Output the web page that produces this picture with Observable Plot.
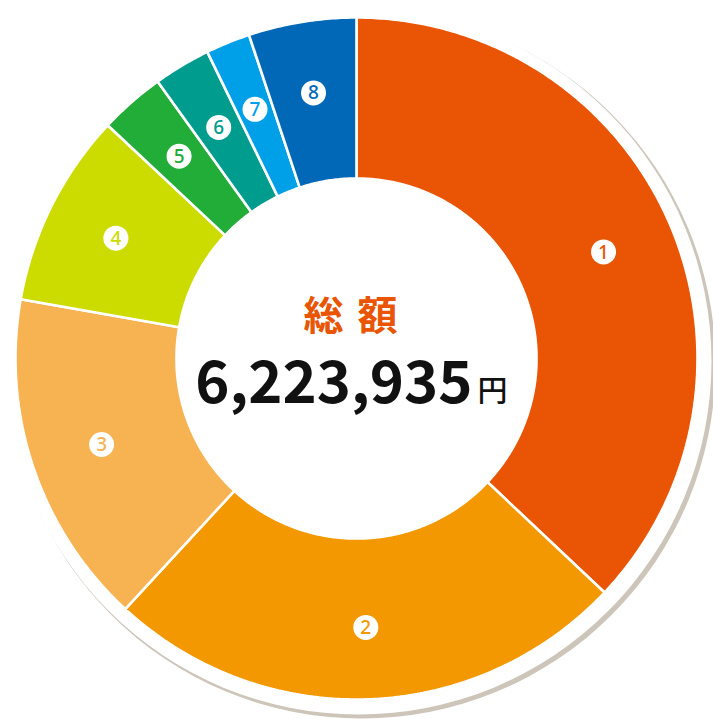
<!DOCTYPE html>
<html><head><meta charset="utf-8">
<script src="https://cdn.jsdelivr.net/npm/d3@7"></script>
<script src="https://cdn.jsdelivr.net/npm/@observablehq/plot@0.6"></script>
<style>
body{margin:0;background:#fff;}
#chart svg{display:block;}
</style>
</head><body><div id="chart"></div>
<script>
// data (share of the total, %)
const categories = ["1","2","3","4","5","6","7","8"];
const shares = [37.0, 24.8, 15.9, 9.2, 3.1, 2.7, 2.1, 5.1];
const colors = ["#E95504","#F39800","#F7B352","#CDDC00","#22AC38","#009C8E","#00A0E9","#0068B7"];
const totalLabel = "総額";
const totalValue = "6,223,935";
const totalUnit = "円";

const innerFrac = 0.528;
const labelFrac = 0.789;

const pieData = categories.map((c, i) => ({cat: c, share: shares[i]}));
const arcs = d3.pie().sort(null).value(d => d.share)(pieData);

// build polygon outlines for each slice from the pie angles
const pts = [];
for (const a of arcs) {
  const n = Math.max(2, Math.ceil((a.endAngle - a.startAngle) / (Math.PI / 360)));
  const ring = [];
  for (let k = 0; k <= n; k++) {
    const t = a.startAngle + (a.endAngle - a.startAngle) * k / n;
    ring.push({cat: a.data.cat, x: Math.sin(t), y: Math.cos(t)});
  }
  for (let k = n; k >= 0; k--) {
    const t = a.startAngle + (a.endAngle - a.startAngle) * k / n;
    ring.push({cat: a.data.cat, x: innerFrac * Math.sin(t), y: innerFrac * Math.cos(t)});
  }
  ring.push({...ring[0]});
  pts.push(...ring);
}
const labelPts = arcs.map(a => {
  const m = (a.startAngle + a.endAngle) / 2;
  return {cat: a.data.cat, x: labelFrac * Math.sin(m), y: labelFrac * Math.cos(m)};
});
const origin = [{x: 0, y: 0}];

const font = "'Noto Sans CJK JP', 'Noto Sans', sans-serif";

const chart = Plot.plot({
  width: 713,
  height: 719,
  marginLeft: 15, marginRight: 16, marginTop: 17, marginBottom: 20,
  x: {domain: [-1, 1], axis: null},
  y: {domain: [-1, 1], axis: null},
  color: {domain: categories, range: colors},
  style: {background: "none", overflow: "visible", fontFamily: font},
  marks: [
    Plot.dot(origin, {x: "x", y: "y", r: 354, fill: "#cdc5b9", stroke: "none", dx: 5, dy: 6}),
    Plot.dot(origin, {x: "x", y: "y", r: 353, fill: "white", stroke: "none", dx: 2, dy: 3}),
    Plot.line(pts, {x: "x", y: "y", z: "cat", fill: "cat", stroke: "white", strokeWidth: 2.6, strokeLinejoin: "miter", curve: "linear"}),
    Plot.dot(labelPts, {x: "x", y: "y", r: 12.5, fill: "white", stroke: "none"}),
    Plot.text(labelPts, {x: "x", y: "y", text: "cat", fill: "cat", fontSize: 19, fontWeight: 500, fontFamily: "'Noto Sans', sans-serif", dy: 0.5}),
    Plot.text([totalLabel], {frameAnchor: "middle", text: d => d, fill: "#E95504", fontSize: 40, fontWeight: "bold", dy: -41, dx: -6, fontFamily: font}),
    Plot.text([totalValue], {frameAnchor: "middle", text: d => d, fill: "#111", stroke: "white", strokeWidth: 1.3, fontSize: 58, fontWeight: "bold", textAnchor: "end", dx: 116, dy: 26, fontFamily: font}),
    Plot.text([totalUnit], {frameAnchor: "middle", text: d => d, fill: "#111", fontSize: 30, fontWeight: 500, textAnchor: "start", dx: 121, dy: 33, fontFamily: font})
  ]
});
// letter spacing of the "総額" heading (style only)
d3.select(chart).selectAll("text").filter(function() { return this.textContent === totalLabel; })
  .attr("letter-spacing", "14px").attr("dx", "7");
document.getElementById("chart").appendChild(chart);
</script>
</body></html>
